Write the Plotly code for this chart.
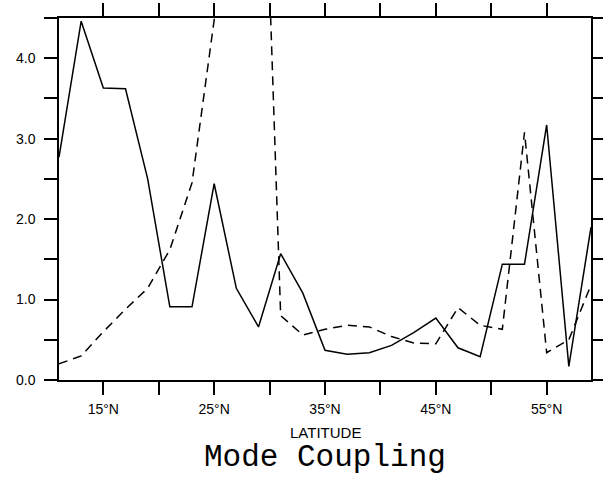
import plotly.graph_objects as go

# Data
latitude = [11, 13, 15, 17, 19, 21, 23, 25, 27, 29, 31, 33, 35, 37, 39, 41, 43, 45, 47, 49, 51, 53, 55, 57, 59]
solid_vals = [2.77, 4.46, 3.63, 3.62, 2.50, 0.91, 0.91, 2.44, 1.14, 0.66, 1.57, 1.08, 0.37, 0.32, 0.34, 0.43,
              0.59, 0.77, 0.40, 0.29, 1.44, 1.44, 3.17, 0.17, 1.90]
dashed_vals = [0.20, 0.30, 0.60, 0.88, 1.14, 1.62, 2.45, 4.55, 6.50, 9.00, 0.80, 0.56, 0.63, 0.68, 0.66, 0.54,
               0.46, 0.45, 0.90, 0.68, 0.63, 3.08, 0.34, 0.50, 1.18]

x_tickvals = [15, 20, 25, 30, 35, 40, 45, 50, 55]
x_ticktext = ["15°N", "", "25°N", "", "35°N", "", "45°N", "", "55°N"]
y_tickvals = [0, 0.5, 1.0, 1.5, 2.0, 2.5, 3.0, 3.5, 4.0, 4.5]
y_ticktext = ["0.0", "", "1.0", "", "2.0", "", "3.0", "", "4.0", ""]

fig = go.Figure()
fig.add_trace(go.Scatter(x=latitude, y=solid_vals, mode="lines",
                         line=dict(color="black", width=1.5), showlegend=False, hoverinfo="skip"))
fig.add_trace(go.Scatter(x=latitude, y=dashed_vals, mode="lines",
                         line=dict(color="black", width=1.5, dash="9px,6px"), showlegend=False, hoverinfo="skip"))

axis_font = dict(family="Liberation Sans, Arial, sans-serif", size=14, color="black")

fig.update_xaxes(range=[11, 59], tickvals=x_tickvals, ticktext=x_ticktext,
                 ticks="outside", ticklen=13, tickwidth=1.5, tickcolor="black",
                 showline=True, linecolor="black", linewidth=1.5, mirror="ticks",
                 showgrid=False, zeroline=False, tickfont=axis_font,
                 automargin=False, ticklabelstandoff=2)
fig.update_yaxes(range=[0, 4.5], tickvals=y_tickvals, ticktext=y_ticktext,
                 ticks="outside", ticklen=13, tickwidth=1.5, tickcolor="black",
                 showline=True, linecolor="black", linewidth=1.5, mirror="ticks",
                 showgrid=False, zeroline=False, tickfont=axis_font,
                 automargin=False, ticklabelstandoff=6)

fig.update_layout(
    width=603, height=503,
    margin=dict(l=59, r=12, t=18, b=123),
    plot_bgcolor="white", paper_bgcolor="white",
    annotations=[
        dict(text="LATITUDE", xref="paper", yref="paper", x=0.5, y=0, yshift=-52,
             xanchor="center", yanchor="middle", showarrow=False,
             font=dict(family="Liberation Sans, Arial, sans-serif", size=15, color="black")),
        dict(text="Mode Coupling", xref="paper", yref="paper", x=0.5, y=0, yshift=-77,
             xanchor="center", yanchor="middle", showarrow=False,
             font=dict(family="Liberation Mono, Courier New, monospace", size=31, color="black")),
    ],
)

fig.write_html("out.html", config={"displayModeBar": False},
               post_script="document.body.style.margin='0';document.body.style.overflow='hidden';")
